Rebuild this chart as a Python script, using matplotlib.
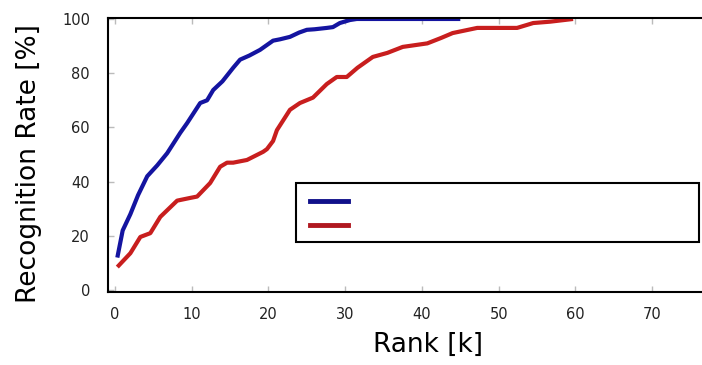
import matplotlib.pyplot as plt
from matplotlib.patches import Rectangle
from matplotlib.lines import Line2D

# curve values
rank_blue = [0.3, 1.0, 2.0, 3.0, 4.2, 5.5, 6.8, 8.5, 9.4, 11.1, 12.0, 12.8, 14.0,
             15.4, 16.3, 17.5, 18.9, 20.6, 21.5, 22.8, 24.0, 25.0, 26.0, 27.6,
             28.4, 29.3, 30.6, 31.5, 45.0]
rate_blue = [12, 22, 28, 35, 42, 46, 50.5, 58, 61.6, 69, 70, 73.8, 77,
             82, 85, 86.5, 88.6, 92, 92.5, 93.4, 95, 96, 96.2, 96.7,
             97, 98.5, 99.6, 100, 100]

rank_red = [0.3, 2.0, 3.3, 4.6, 5.9, 8.1, 9.8, 10.7, 12.4, 13.7, 14.6, 15.4,
            17.2, 19.3, 19.8, 20.6, 21.1, 22.8, 24.1, 25.8, 27.6, 28.9, 30.2,
            31.6, 33.6, 35.5, 37.5, 40.7, 42.5, 44.0, 47.2, 52.4, 54.5, 56.7, 59.7]
rate_red = [8.5, 13.6, 19.6, 21, 27, 33, 34, 34.5, 39.5, 45.5, 47, 47,
            48, 51, 52, 55, 59, 66.5, 69, 71, 76, 78.6, 78.6,
            82, 86, 87.5, 89.7, 91, 93, 94.8, 96.7, 96.7, 98.5, 99, 100]

xticks = [0, 10, 20, 30, 40, 50, 60, 70]
yticks = [0, 20, 40, 60, 80, 100]

blue = '#1414a0'
red = '#c81e1e'

fig = plt.figure(figsize=(7.02, 3.65), dpi=100)
ax = fig.add_axes([0.154, 0.2, 0.846, 0.751])

ax.plot(rank_blue, rate_blue, color=blue, lw=3, solid_capstyle='butt')
ax.plot(rank_red, rate_red, color=red, lw=3, solid_capstyle='butt')

ax.set_xlim(-0.9, 76.5)
ax.set_ylim(-0.7, 100.4)
ax.set_xticks(xticks)
ax.set_yticks(yticks)
ax.tick_params(direction='in', length=4, width=1, color='#bbbbbb',
               top=True, labelsize=10.5, labelcolor='#222222')
ax.tick_params(axis='x', pad=11)
ax.tick_params(axis='y', pad=13)
ax.spines['right'].set_visible(False)
for s in ['left', 'top', 'bottom']:
    ax.spines[s].set_linewidth(1.5)

ax.set_xlabel('Rank [k]', fontsize=19)
ax.set_ylabel('Recognition Rate [%]', fontsize=19)
ax.xaxis.set_label_coords(0.539, -0.146)
ax.yaxis.set_label_coords(-0.111, 0.467)

# empty legend box
box = Rectangle((0.3165, 0.182), 0.678, 0.216, transform=ax.transAxes,
                facecolor='white', edgecolor='black', lw=1.5, zorder=5)
ax.add_patch(box)
ax.add_line(Line2D([0.34, 0.404], [0.332, 0.332], transform=ax.transAxes,
                   color='#10108a', lw=3.5, zorder=6))
ax.add_line(Line2D([0.34, 0.404], [0.245, 0.245], transform=ax.transAxes,
                   color='#b01820', lw=3.5, zorder=6))

fig.savefig('out.png', dpi=100)
